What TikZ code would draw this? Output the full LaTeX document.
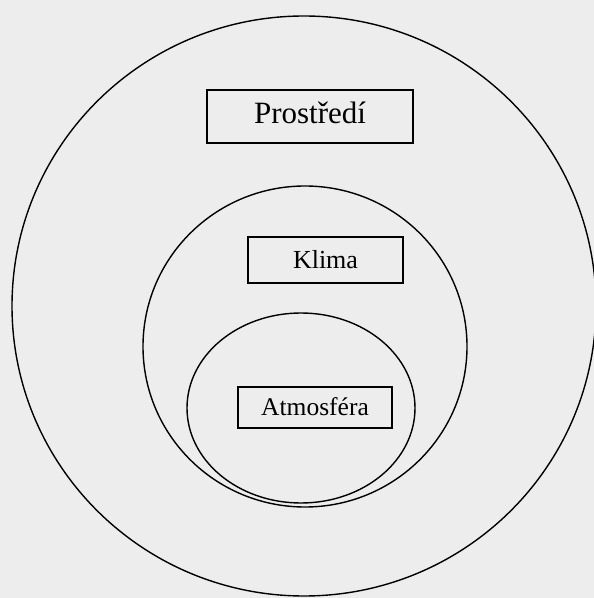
\documentclass[tikz,border=0pt]{standalone}
\usepackage{fontspec}
\setmainfont{Liberation Serif}
\usetikzlibrary{shapes.geometric}

\begin{document}
\begin{tikzpicture}[
  x=1pt, y=1pt,
  % Nested region styles
  region/.style={
    ellipse, draw=black, line width=1.4pt, inner sep=0pt
  },
  tag/.style={
    rectangle, draw=black, line width=1.2pt, inner sep=0pt,
    align=center, text=black
  },
  bigtag/.style={tag, font=\fontsize{31}{34}\selectfont},
  smalltag/.style={tag, font=\fontsize{26}{30}\selectfont}
]

% Page and background
\useasboundingbox (0,0) rectangle (594,598);
\fill[black!7] (0,0) rectangle (594,598);

% Regions
\node[region, minimum width=584, minimum height=580] (prostredi) at (304,292) {};
\node[region, minimum width=324, minimum height=321] (klima) at (305,251.5) {};
\node[region, minimum width=228, minimum height=190] (atmosfera) at (301,190) {};

% Labels
\node[bigtag, minimum width=206, minimum height=53, text depth=7pt] (prostredilabel) at (310,481.5) {Prostředí};
\node[smalltag, minimum width=155, minimum height=46, text depth=2pt] (klimalabel) at (325.5,338) {Klima};
\node[smalltag, minimum width=154, minimum height=41, text depth=1pt, font=\fontsize{25.5}{30}\selectfont] (atmosferalabel) at (315,190.5) {Atmosféra};

\end{tikzpicture}
\end{document}
